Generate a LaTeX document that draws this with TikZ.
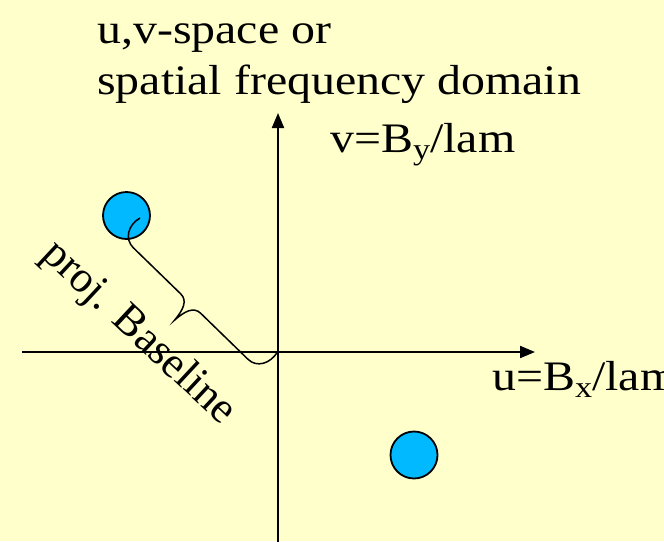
\documentclass[tikz,border=0pt]{standalone}
\usepackage{fontspec}
\setmainfont{Liberation Serif}
\usetikzlibrary{arrows.meta}
\definecolor{bgyellow}{RGB}{255,255,204}
\definecolor{dotblue}{RGB}{0,185,255}
\newcommand{\lowsub}[1]{\raisebox{-7pt}{\fontsize{30}{30}\selectfont #1}}
\begin{document}
\begin{tikzpicture}[x=1pt,y=-1pt,
  axis/.style={line width=2pt, -{Triangle[length=15pt,width=12pt]}},
  dotnode/.style={circle, draw=black, line width=1.8pt, fill=dotblue, minimum size=47pt, inner sep=0pt},
  lbl/.style={font=\fontsize{42}{50}\selectfont, inner sep=0pt, anchor=base west, xscale=1.14},
  bracepath/.style={line width=1.5pt}]
\fill[bgyellow] (0,0) rectangle (664,541);
\useasboundingbox (0,0) rectangle (664,541);
\coordinate (O) at (278,352);
\coordinate (xl) at (22,352);
\coordinate (xr) at (535,352);
\coordinate (yb) at (278,545);
\coordinate (yt) at (278,113);
\draw[axis] (xl) -- (xr);
\draw[axis] (yb) -- (yt);
\node[dotnode] (d1) at (126.5,215.5) {};
\node[dotnode] (d2) at (414,455) {};
\coordinate (bs) at (140,218);
\begin{scope}[shift={(bs)}, rotate=-44.2]
\draw[bracepath] (0,0) .. controls (-4,14) and (4,26) .. (16,26) -- (82,26)
  .. controls (92,26) and (95,36) .. (96,49)
  .. controls (97,36) and (100,26) .. (110,26) -- (176,26)
  .. controls (188,26) and (195,14) .. (192,0);
\end{scope}
\node[lbl] (t1) at (97,43) {u,v-space or};
\node[lbl] (t2) at (97,94) {spatial frequency domain};
\node[lbl] (vl) at (330,152) {v=B\lowsub{y}/lam};
\node[lbl] (ul) at (492,390) {u=B\lowsub{x}/lam};
\node[font=\fontsize{44}{50}\selectfont, inner sep=0pt, rotate=-43] (pb) at (138,333) {proj. Baseline};
\end{tikzpicture}
\end{document}
